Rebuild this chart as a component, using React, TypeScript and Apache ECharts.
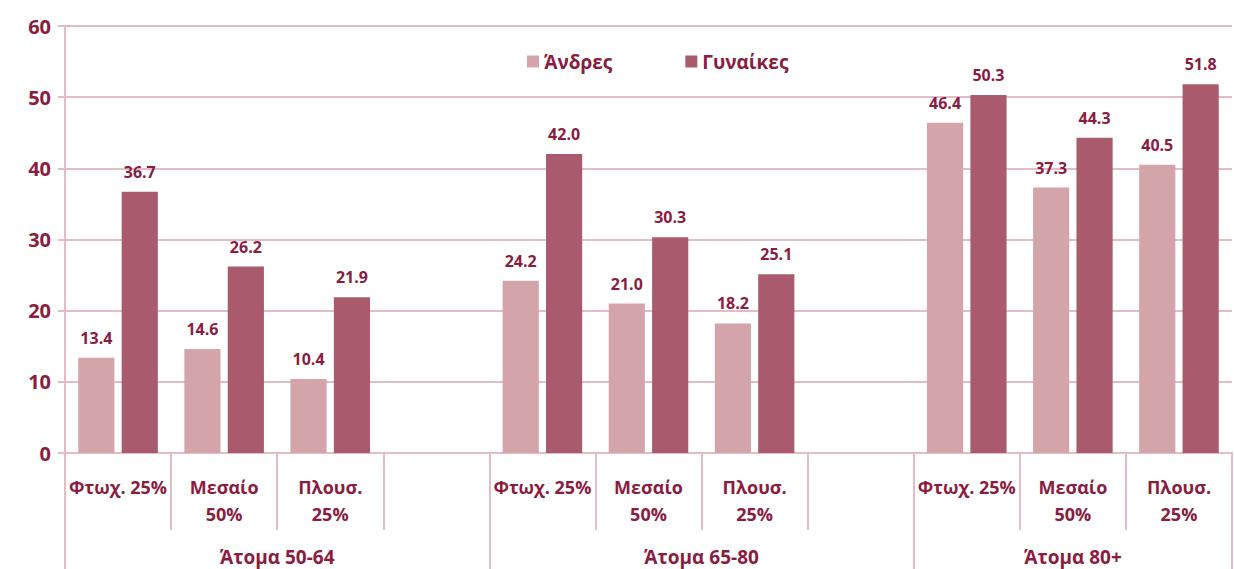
import React, { useEffect, useRef } from "react";
import * as echarts from "echarts";

const categories = [
  "Φτωχ. 25%", "Μεσαίο\n50%", "Πλουσ.\n25%", "",
  "Φτωχ. 25%", "Μεσαίο\n50%", "Πλουσ.\n25%", "",
  "Φτωχ. 25%", "Μεσαίο\n50%", "Πλουσ.\n25%",
];
const groupLabels = ["Άτομα 50-64", "Άτομα 65-80", "Άτομα 80+"];
const seriesNames = ["Άνδρες", "Γυναίκες"];
const andres = [13.4, 14.6, 10.4, null, 24.2, 21.0, 18.2, null, 46.4, 37.3, 40.5];
const gynaikes = [36.7, 26.2, 21.9, null, 42.0, 30.3, 25.1, null, 50.3, 44.3, 51.8];
const yTicks = { min: 0, max: 60, interval: 10 };

const TEXT = "#8a1c40";
const LINE = "#e3bcc5";
const FONT = "'Open Sans', 'Noto Sans', sans-serif";

export default function App() {
  const ref = useRef<HTMLDivElement>(null);
  useEffect(() => {
    if (!ref.current) return;
    const chart = echarts.init(ref.current, undefined, { renderer: "svg" });
    const label = {
      show: true,
      position: "top",
      distance: 12,
      color: TEXT,
      fontWeight: "bold",
      fontSize: 16,
      fontFamily: FONT,
      formatter: (p: any) => (p.value == null ? "" : Number(p.value).toFixed(1)),
    };
    const groupIdx: Record<number, number> = { 1: 0, 5: 1, 9: 2 };
    chart.setOption({
      animation: false,
      textStyle: { fontFamily: FONT },
      grid: { left: 65, right: 2, top: 26, bottom: 116 },
      legend: {
        top: 47,
        left: 522,
        itemWidth: 12,
        itemHeight: 12,
        itemGap: 73,
        icon: "rect",
        textStyle: { color: TEXT, fontSize: 19, fontWeight: "bold", fontFamily: FONT },
        data: seriesNames,
      },
      xAxis: [
        {
          type: "category",
          data: categories,
          axisLine: { show: true, lineStyle: { color: LINE, width: 2 } },
          axisTick: { show: true, length: 77, interval: 0, lineStyle: { color: LINE, width: 2 } },
          axisLabel: {
            interval: 0,
            margin: 20,
            color: TEXT,
            fontWeight: "bold",
            fontSize: 18,
            lineHeight: 27,
            fontFamily: FONT,
          },
        },
        {
          type: "category",
          data: categories.map((_, i) => String(i)),
          position: "bottom",
          axisLine: { show: false },
          axisTick: {
            show: true,
            length: 116,
            interval: (i: number) => i % 4 === 0,
            lineStyle: { color: LINE, width: 2 },
          },
          axisLabel: {
            interval: (i: number) => i in groupIdx,
            margin: 94,
            color: TEXT,
            fontWeight: "bold",
            fontSize: 19,
            fontFamily: FONT,
            formatter: (v: string) => {
              const i = Number(v);
              const g = groupIdx[i];
              if (g === undefined) return "";
              return g < 2 ? `{s|${groupLabels[g]}}` : `{c|${groupLabels[g]}}`;
            },
            rich: {
              s: { padding: [0, 0, 0, 106], color: TEXT, fontWeight: "bold", fontSize: 19, fontFamily: FONT },
              c: { color: TEXT, fontWeight: "bold", fontSize: 19, fontFamily: FONT },
            },
          },
        },
      ],
      yAxis: {
        type: "value",
        min: yTicks.min,
        max: yTicks.max,
        interval: yTicks.interval,
        axisLine: { show: true, lineStyle: { color: LINE, width: 2 } },
        axisTick: { show: true, length: 7, lineStyle: { color: LINE, width: 2 } },
        splitLine: { show: true, lineStyle: { color: LINE, width: 2 } },
        axisLabel: { color: TEXT, fontWeight: "bold", fontSize: 20, margin: 14, fontFamily: FONT },
      },
      series: [
        {
          name: seriesNames[0],
          type: "bar",
          data: andres,
          itemStyle: { color: "#d4a4ab" },
          barGap: "20%",
          barCategoryGap: "25%",
          label,
        },
        {
          name: seriesNames[1],
          type: "bar",
          data: gynaikes,
          itemStyle: { color: "#a95b6d" },
          barGap: "20%",
          barCategoryGap: "25%",
          label,
        },
      ],
    });
    return () => chart.dispose();
  }, []);
  return <div ref={ref} style={{ width: 1234, height: 569, position: "absolute", left: 0, top: 0 }} />;
}
